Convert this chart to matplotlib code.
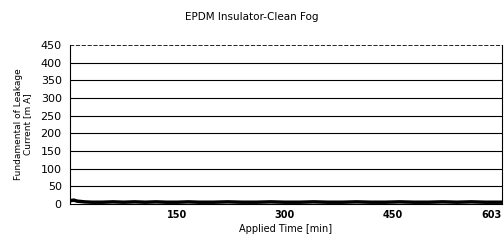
import matplotlib
matplotlib.use("Agg")
import matplotlib.pyplot as plt

time_min = [0, 5, 10, 15, 20, 30, 45, 60, 75, 90, 105, 120, 135, 150, 165, 180,
            200, 220, 240, 260, 280, 300, 320, 340, 360, 380, 400, 420, 440, 460,
            480, 500, 520, 540, 560, 580, 603]
current_ma = [9, 11, 8, 7, 6, 5, 5, 6, 5, 6, 5, 6, 5, 5, 6, 5,
              5, 6, 5, 5, 6, 5, 5, 6, 5, 5, 6, 5, 5, 6,
              5, 5, 6, 5, 6, 5, 5]
x_ticks = [150, 300, 450, 603]
y_ticks = [0, 50, 100, 150, 200, 250, 300, 350, 400, 450]

fig = plt.figure(figsize=(5.04, 2.44), dpi=100)
ax = fig.add_axes([0.139, 0.164, 0.857, 0.652])
for y in y_ticks[1:-1]:
    ax.axhline(y, color="black", lw=0.8, zorder=1)
ax.plot(time_min, current_ma, color="black", lw=2.5, zorder=3)
ax.set_xlim(0, 603)
ax.set_ylim(0, 450)
ax.set_yticks(y_ticks)
ax.set_xticks(x_ticks)
labels = ax.set_xticklabels([str(t) for t in x_ticks], fontsize=7, fontweight="bold",
                            family=["Liberation Sans Narrow", "DejaVu Sans"])
labels[-1].set_ha("right")
ax.tick_params(axis="y", labelsize=8, length=0, pad=6)
ax.tick_params(axis="x", length=0, pad=4)
for s in ax.spines.values():
    s.set_linewidth(0.8)
ax.spines["top"].set_linestyle((0, (4, 3)))
ax.spines["top"].set_linewidth(0.6)
ax.spines["right"].set_linestyle((0, (1, 1)))
ax.set_xlabel("Applied Time [min]", fontsize=7, labelpad=3)
ax.set_ylabel("Fundamental of Leakage\nCurrent [m A]", fontsize=6.5, labelpad=6,
              linespacing=1.0)
fig.text(0.5, 0.93, "EPDM Insulator-Clean Fog", ha="center", va="center", fontsize=7.5)
fig.savefig("out.png", dpi=100)
